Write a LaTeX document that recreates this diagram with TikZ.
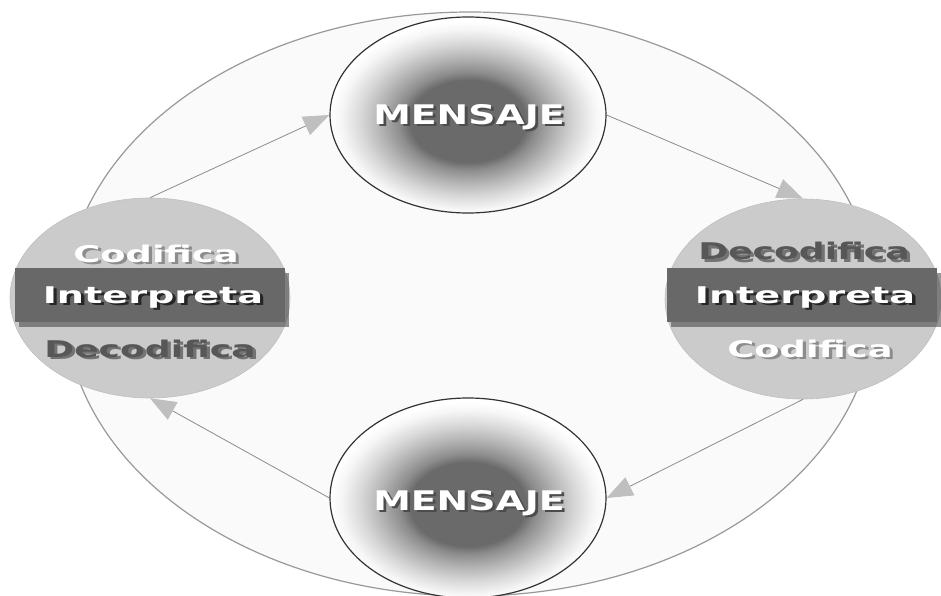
\documentclass[tikz,border=0pt]{standalone}
\usepackage{fontspec}
\setmainfont{DejaVu Sans}
\usetikzlibrary{arrows.meta,shapes.geometric}
\definecolor{dkc}{HTML}{6A6A6A}
\definecolor{g1}{HTML}{8C8C8C}
\definecolor{g2}{HTML}{B4B4B4}
\definecolor{g3}{HTML}{D8D8D8}
\definecolor{g4}{HTML}{F6F6F6}
\definecolor{barc}{HTML}{686868}
\definecolor{sidec}{HTML}{CBCBCB}
\definecolor{darktxt}{HTML}{575757}
\newcommand\shtxt[2]{\rlap{\kern2pt\raisebox{-2pt}{\textcolor{#1}{#2}}}#2}
\pgfdeclareradialshading{msgshade}{\pgfpoint{0bp}{-2bp}}{color(0bp)=(dkc); color(10.5bp)=(dkc); color(12.5bp)=(g1); color(16bp)=(g2); color(19.5bp)=(g3); color(23bp)=(g4); color(25bp)=(white); color(50bp)=(white)}
\tikzset{
  msg/.style={ellipse, draw=black!80, line width=1.2pt, shading=msgshade, inner sep=0pt},
  side/.style={ellipse, fill=sidec, draw=black!25, line width=0.6pt, inner sep=0pt},
  bar/.style={rectangle, fill=barc, inner sep=0pt, minimum width=270pt, minimum height=54pt},
  barshadow/.style={rectangle, fill=black!75, opacity=0.55, inner sep=0pt, minimum width=270pt, minimum height=54pt},
  lbl/.style={anchor=base, inner sep=0pt, font=\fontsize{23}{23}\selectfont\bfseries},
  biglbl/.style={anchor=base, inner sep=0pt, font=\fontsize{27}{27}\selectfont\bfseries},
  arr/.style={draw=black!45, line width=0.8pt, -{Triangle[length=26pt,width=20pt,color=black!25]}}
}
\begin{document}
\begin{tikzpicture}[x=1pt,y=1pt]
\useasboundingbox (0,0) rectangle (941,595);
\fill[white] (0,0) rectangle (941,595);
\node[ellipse, draw=black!40, line width=1.2pt, fill=black!2, minimum width=810pt, minimum height=584pt, inner sep=0pt] (outer) at (470,291) {};
% circles
\node[msg, minimum width=276pt, minimum height=196pt] (top) at (468,480) {};
\node[msg, minimum width=276pt, minimum height=200pt] (bot) at (468,97) {};
\node[side, minimum width=280pt, minimum height=200pt] (left) at (150,297) {};
\node[side, minimum width=276pt, minimum height=200pt] (right) at (803,296) {};
% connectors
\draw[arr] (left.north) -- (top.west);
\draw[arr] (top.east) -- (right.north);
\draw[arr] (right.south) -- (bot.east);
\draw[arr] (bot.west) -- (left.south);
% bars
\node[barshadow] (lbarsh) at (154,295) {};
\node[bar] (lbar) at (150,300) {};
\node[barshadow] (rbarsh) at (806,295) {};
\node[bar] (rbar) at (802,300) {};
% MENSAJE labels
\node[biglbl, text=white] (tm) at (469,470) {\scalebox{1.4}[1]{\shtxt{black!70}{MENSAJE}}};
\node[biglbl, text=white] (bm) at (469,85) {\scalebox{1.4}[1]{\shtxt{black!70}{MENSAJE}}};
% left texts
\node[lbl, text=white] (lc) at (156,333) {\scalebox{1.6}[1]{\shtxt{black!45}{Codifica}}};
\node[lbl, text=white] (li) at (153,292) {\scalebox{1.66}[1]{\shtxt{black!85}{Interpreta}}};
\node[lbl, text=darktxt] (ld) at (150,238) {\scalebox{1.57}[1]{\shtxt{black!55}{Decodifica}}};
% right texts
\node[lbl, text=darktxt] (rd) at (804,335) {\scalebox{1.57}[1]{\shtxt{black!55}{Decodifica}}};
\node[lbl, text=white] (ri) at (805,292) {\scalebox{1.66}[1]{\shtxt{black!85}{Interpreta}}};
\node[lbl, text=white] (rc) at (810,238) {\scalebox{1.6}[1]{\shtxt{black!45}{Codifica}}};
\end{tikzpicture}
\end{document}
